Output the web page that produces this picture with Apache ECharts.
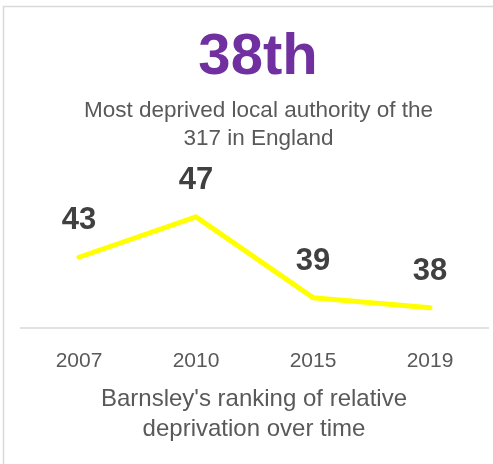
<!DOCTYPE html>
<html>
<head>
<meta charset="utf-8">
<script src="https://cdn.jsdelivr.net/npm/echarts@6/dist/echarts.min.js"></script>
<style>
html,body{margin:0;padding:0;background:#fff;}
#c{width:493px;height:464px;}
</style>
</head>
<body>
<div id="c"></div>
<script>
var years = ['2007', '2010', '2015', '2019'];
var ranks = [43, 47, 39, 38];
var headline = '38th';
var subtitle = 'Most deprived local authority of the\n317 in England';
var caption = "Barnsley's ranking of relative\ndeprivation over time";

var FONT = '"Liberation Sans", Arial, sans-serif';
var chart = echarts.init(document.getElementById('c'));
chart.setOption({
  animation: false,
  backgroundColor: '#ffffff',
  grid: { left: 20.5, right: 4.5, top: 186.5, bottom: 136 },
  xAxis: {
    type: 'category',
    data: years,
    boundaryGap: true,
    axisLine: { show: true, lineStyle: { color: '#d9d9d9', width: 1.5 } },
    axisTick: { show: false },
    axisLabel: { color: '#595959', fontFamily: FONT, fontSize: 21, margin: 23, lineHeight: 21 }
  },
  yAxis: {
    type: 'value', min: 36, max: 50,
    show: false,
    splitLine: { show: false }
  },
  series: [{
    type: 'line',
    data: ranks,
    symbol: 'circle',
    symbolSize: 1,
    itemStyle: { color: 'rgba(255,255,0,0)' },
    lineStyle: { color: '#ffff00', width: 5, cap: 'round', join: 'round' },
    label: {
      show: true, position: 'top', distance: 20,
      color: '#404040', fontFamily: FONT, fontWeight: 'bold', fontSize: 31, lineHeight: 32
    }
  }],
  graphic: [
    { type: 'rect', shape: { x: 3.5, y: 6.5, width: 600, height: 600 }, style: { fill: 'none', stroke: '#d9d9d9', lineWidth: 1.5 }, silent: true, z: -10 },
    { type: 'text', x: 258, y: 58, style: { text: headline, fill: '#7030a0', font: 'bold 58px ' + FONT, textAlign: 'center', textVerticalAlign: 'middle' } },
    { type: 'text', x: 258.5, y: 125, style: { text: subtitle, fill: '#595959', font: '22.5px ' + FONT, lineHeight: 28, textAlign: 'center', textVerticalAlign: 'middle' } },
    { type: 'text', x: 254, y: 414, style: { text: caption, fill: '#595959', font: '24px ' + FONT, lineHeight: 30, textAlign: 'center', textVerticalAlign: 'middle' } }
  ]
});
</script>
</body>
</html>
